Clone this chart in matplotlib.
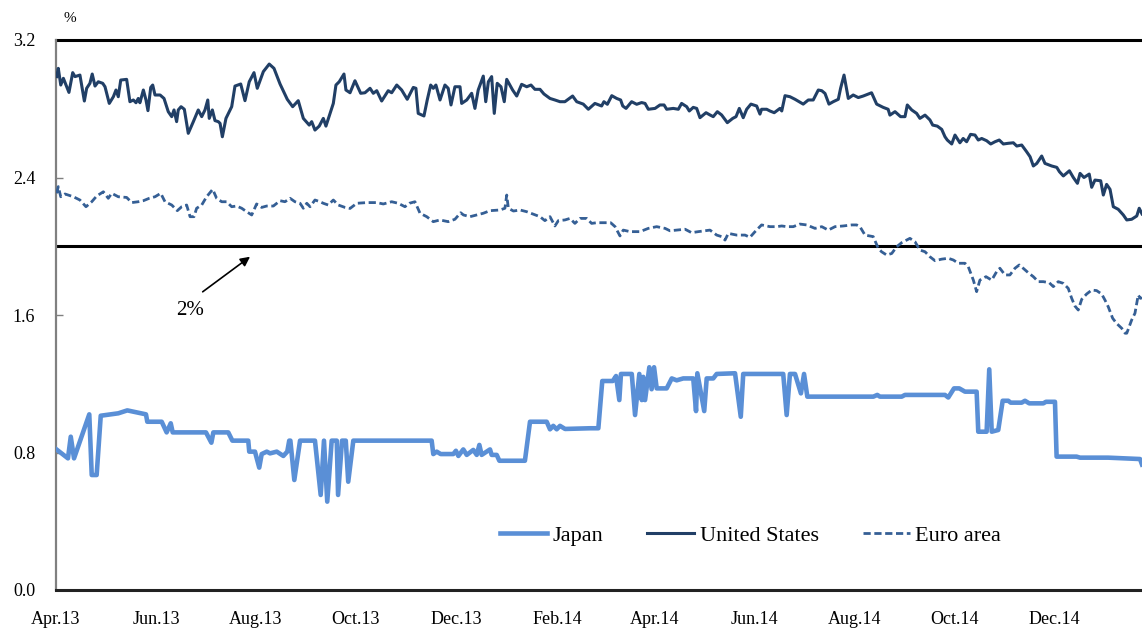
import matplotlib
matplotlib.use('Agg')
import matplotlib.pyplot as plt
import pandas as pd

plt.rcParams['font.family'] = ['Liberation Serif', 'DejaVu Serif']

# ---------------- data (x = days since 2013-04-01, y = %) ----------------
start_date = '2013-04-01'
end_day = 662.6

japan_day = [0, 7.3, 9.0, 11.0, 20.3, 21.8, 24.8, 27.3, 38.0, 43.5, 54.9, 55.7, 64.5, 67.5, 70.0, 71.2,
             91.5, 94.8, 96.0, 105.1, 107.6, 117.3, 117.9, 121.4, 124.0, 125.5, 128.6, 130.6, 134.7,
             138.7, 141.1, 142.3, 143.0, 145.4, 148.9, 158.0, 161.5, 163.5, 165.5, 168.2, 171.3, 172.1,
             174.5, 176.8, 178.3, 181.4, 229.2, 230.2, 232.3, 234.7, 242.4, 244.0, 245.5, 248.5, 250.6,
             254.6, 256.7, 258.3, 259.7, 264.8, 265.8, 268.9, 270.5, 286.1, 289.2, 299.4, 301.4, 303.4,
             305.5, 307.5, 310.6, 325.8, 330.9, 333.3, 339.7, 341.7, 343.7, 344.7, 351.3, 353.3, 355.9,
             357.4, 358.3, 359.4, 362.0, 363.4, 364.9, 366.5, 372.6, 375.7, 378.7, 382.7, 388.8, 390.5,
             391.3, 395.5, 397.0, 401.0, 403.1, 414.3, 417.8, 419.3, 443.7, 445.8, 447.8, 450.9, 454.5,
             456.4, 458.4, 498.7, 501.1, 502.7, 516.0, 518.0, 542.4, 544.4, 547.9, 551.1, 554.6, 561.7,
             562.7, 567.8, 569.4, 570.9, 574.9, 577.6, 581.0, 582.5, 589.2, 591.2, 593.8, 602.4, 604.0,
             609.5, 610.5, 622.7, 624.8, 642.0, 661.4, 662.6]
japan_val = [0.820, 0.766, 0.892, 0.766, 1.022, 0.669, 0.669, 1.014, 1.028, 1.045, 1.022, 0.979, 0.979,
             0.917, 0.970, 0.917, 0.917, 0.857, 0.917, 0.917, 0.869, 0.869, 0.805, 0.805, 0.712, 0.791,
             0.805, 0.795, 0.805, 0.780, 0.805, 0.869, 0.869, 0.640, 0.869, 0.869, 0.553, 0.869, 0.514,
             0.869, 0.869, 0.553, 0.869, 0.869, 0.630, 0.869, 0.869, 0.791, 0.805, 0.791, 0.791, 0.810,
             0.780, 0.818, 0.786, 0.815, 0.786, 0.844, 0.786, 0.818, 0.786, 0.786, 0.752, 0.752, 0.979,
             0.979, 0.935, 0.955, 0.935, 0.955, 0.937, 0.941, 0.941, 1.216, 1.216, 1.245, 1.105, 1.257,
             1.257, 1.018, 1.257, 1.105, 1.240, 1.105, 1.296, 1.168, 1.296, 1.173, 1.173, 1.231, 1.220,
             1.231, 1.231, 1.041, 1.261, 1.041, 1.231, 1.231, 1.257, 1.261, 1.008, 1.257, 1.257, 1.018,
             1.257, 1.257, 1.144, 1.257, 1.125, 1.125, 1.135, 1.125, 1.125, 1.135, 1.135, 1.120, 1.173,
             1.173, 1.154, 1.154, 0.921, 0.921, 1.284, 0.921, 0.931, 1.101, 1.101, 1.090, 1.090, 1.101,
             1.086, 1.086, 1.095, 1.095, 0.776, 0.776, 0.770, 0.770, 0.762, 0.730]

us_day = [0.4, 1.4, 2.9, 4.5, 6.1, 7.9, 10.2, 11.6, 14.6, 17.3, 18.7, 20.7, 22.1, 23.8, 25.8, 28.5, 29.9,
          32.5, 35.0, 36.6, 38.0, 39.5, 43.1, 45.1, 47.2, 48.8, 50.2, 51.2, 53.3, 54.9, 56.1, 57.8, 59.0,
          60.4, 63.5, 65.9, 68.5, 70.6, 72.0, 73.6, 74.6, 76.3, 78.3, 80.7, 83.8, 86.8, 88.9, 90.9, 92.6,
          93.5, 95.4, 97.0, 99.0, 100.1, 101.5, 103.7, 107.2, 109.2, 112.7, 115.3, 117.9, 120.8, 122.8,
          126.5, 130.1, 133.0, 136.7, 141.1, 144.4, 147.8, 150.9, 154.5, 156.0, 158.0, 160.6, 163.1,
          164.7, 169.2, 170.8, 172.8, 175.7, 176.9, 179.4, 182.4, 185.9, 188.5, 191.6, 193.6, 195.7,
          198.7, 202.7, 204.8, 207.9, 210.9, 214.3, 218.0, 219.6, 221.0, 224.5, 226.5, 228.6, 230.2,
          231.8, 234.3, 237.3, 239.3, 241.0, 243.4, 246.5, 247.5, 250.6, 253.6, 255.6, 257.6, 260.7,
          262.2, 263.8, 265.8, 267.4, 269.2, 271.5, 273.5, 275.0, 278.6, 281.1, 284.1, 287.2, 289.8,
          292.2, 295.3, 297.7, 301.4, 304.4, 307.5, 310.5, 315.2, 317.7, 321.7, 324.8, 328.8, 332.9,
          334.3, 336.4, 339.1, 342.1, 344.5, 345.8, 347.8, 351.2, 354.3, 357.3, 359.4, 361.4, 365.5,
          368.5, 371.0, 372.6, 376.6, 379.7, 381.7, 384.8, 386.4, 388.8, 390.9, 392.9, 396.6, 399.0,
          401.0, 403.5, 406.1, 409.6, 412.9, 414.9, 416.9, 419.3, 421.4, 424.0, 427.5, 429.5, 430.5,
          433.6, 435.6, 438.2, 441.7, 442.8, 444.8, 447.8, 450.9, 455.9, 459.0, 462.0, 465.1, 467.2,
          469.2, 471.6, 474.2, 477.3, 478.7, 480.8, 483.4, 486.4, 489.5, 492.5, 497.6, 500.7, 504.7,
          507.7, 508.8, 511.9, 515.3, 518.0, 519.4, 522.1, 525.1, 527.1, 530.2, 533.2, 534.9, 537.7,
          540.4, 542.4, 543.8, 546.5, 548.5, 551.5, 553.5, 555.6, 558.0, 560.7, 562.7, 564.8, 567.8,
          570.3, 572.9, 575.5, 578.0, 581.0, 584.1, 586.2, 589.2, 592.2, 594.3, 596.3, 598.4, 601.4,
          603.4, 607.5, 610.6, 612.2, 614.6, 618.3, 620.7, 623.2, 624.8, 627.2, 630.4, 631.9, 633.9,
          637.4, 639.0, 641.0, 643.1, 645.1, 648.1, 651.2, 653.3, 656.3, 659.4, 660.9, 662.6]
us_val = [2.987, 3.035, 2.938, 2.977, 2.938, 2.895, 3.010, 2.987, 2.996, 2.845, 2.919, 2.948, 3.002,
          2.932, 2.957, 2.948, 2.928, 2.831, 2.870, 2.909, 2.870, 2.967, 2.971, 2.841, 2.851, 2.835,
          2.860, 2.835, 2.909, 2.851, 2.789, 2.924, 2.938, 2.880, 2.880, 2.860, 2.783, 2.754, 2.793,
          2.725, 2.793, 2.812, 2.797, 2.657, 2.725, 2.793, 2.754, 2.793, 2.851, 2.744, 2.793, 2.731,
          2.725, 2.715, 2.637, 2.744, 2.812, 2.932, 2.944, 2.847, 2.957, 3.010, 2.919, 3.016, 3.060,
          3.035, 2.944, 2.855, 2.812, 2.847, 2.744, 2.705, 2.725, 2.676, 2.699, 2.744, 2.699, 2.831,
          2.938, 2.957, 3.002, 2.909, 2.893, 2.963, 2.890, 2.893, 2.919, 2.890, 2.905, 2.845, 2.905,
          2.893, 2.938, 2.909, 2.855, 2.924, 2.919, 2.773, 2.758, 2.851, 2.938, 2.919, 2.938, 2.851,
          2.938, 2.919, 2.822, 2.928, 2.928, 2.831, 2.851, 2.890, 2.802, 2.909, 2.990, 2.841, 2.957,
          2.987, 2.773, 2.948, 2.928, 2.841, 2.971, 2.909, 2.874, 2.942, 2.928, 2.938, 2.913, 2.913,
          2.886, 2.860, 2.851, 2.841, 2.841, 2.874, 2.841, 2.827, 2.797, 2.831, 2.816, 2.841, 2.826,
          2.876, 2.860, 2.851, 2.816, 2.802, 2.841, 2.826, 2.836, 2.831, 2.797, 2.802, 2.822, 2.822,
          2.797, 2.802, 2.797, 2.831, 2.812, 2.787, 2.808, 2.802, 2.748, 2.777, 2.764, 2.754, 2.783,
          2.764, 2.719, 2.744, 2.754, 2.802, 2.748, 2.797, 2.827, 2.816, 2.769, 2.797, 2.797, 2.787,
          2.777, 2.802, 2.787, 2.876, 2.870, 2.855, 2.827, 2.851, 2.851, 2.909, 2.905, 2.889, 2.827,
          2.841, 2.855, 2.919, 2.996, 2.860, 2.880, 2.865, 2.874, 2.893, 2.827, 2.808, 2.797, 2.763,
          2.783, 2.754, 2.754, 2.822, 2.793, 2.773, 2.744, 2.763, 2.735, 2.705, 2.699, 2.680, 2.637,
          2.618, 2.595, 2.647, 2.602, 2.627, 2.608, 2.651, 2.647, 2.618, 2.627, 2.614, 2.595, 2.608,
          2.618, 2.595, 2.599, 2.602, 2.583, 2.589, 2.550, 2.521, 2.467, 2.482, 2.525, 2.482, 2.467,
          2.459, 2.434, 2.409, 2.439, 2.400, 2.366, 2.424, 2.400, 2.420, 2.343, 2.385, 2.381, 2.298,
          2.360, 2.331, 2.230, 2.215, 2.182, 2.153, 2.157, 2.176, 2.221, 2.188]

euro_day = [0.4, 1.4, 2.9, 5.5, 10.6, 14.6, 18.3, 21.8, 24.8, 28.9, 31.9, 34.0, 38.0, 43.1, 46.2, 50.2,
            53.3, 56.9, 60.4, 63.9, 66.5, 70.6, 74.0, 76.7, 79.7, 81.8, 84.2, 85.8, 88.9, 91.9, 95.6,
            98.0, 101.1, 104.1, 107.2, 110.2, 113.3, 116.3, 119.4, 122.4, 125.5, 128.5, 132.6, 136.7,
            139.7, 142.8, 145.8, 148.9, 150.9, 153.0, 155.0, 158.0, 161.1, 163.1, 166.1, 169.2, 172.2,
            176.3, 179.4, 183.5, 189.6, 195.7, 199.7, 204.8, 208.8, 212.9, 215.6, 219.0, 222.1, 226.2,
            230.2, 234.3, 239.3, 243.4, 246.9, 248.6, 252.6, 256.7, 260.7, 264.8, 270.9, 273.9, 275.0,
            276.0, 279.1, 283.1, 287.2, 291.2, 295.3, 298.3, 301.4, 304.4, 306.5, 310.5, 313.6, 316.6,
            319.7, 323.8, 326.8, 329.9, 333.9, 338.4, 341.1, 344.1, 346.1, 350.2, 356.3, 361.4, 366.5,
            371.6, 374.6, 378.7, 383.8, 387.8, 391.9, 396.0, 399.0, 403.1, 406.1, 408.2, 410.2, 415.3,
            420.4, 423.4, 426.5, 430.5, 435.6, 439.7, 442.8, 445.8, 449.8, 453.9, 458.0, 463.1, 467.2,
            471.2, 475.3, 480.3, 485.5, 488.5, 490.5, 493.6, 498.6, 501.7, 503.7, 506.8, 509.9, 512.9,
            516.0, 521.0, 524.1, 527.1, 530.2, 533.2, 536.3, 540.4, 544.4, 547.5, 550.5, 554.6, 556.6,
            559.7, 561.7, 563.7, 567.4, 570.9, 573.9, 575.9, 579.0, 582.0, 585.1, 587.7, 590.1, 593.2,
            596.3, 599.3, 602.4, 606.0, 608.5, 611.5, 614.6, 617.6, 619.7, 621.7, 623.7, 625.8, 628.8,
            631.9, 634.9, 638.0, 640.0, 642.0, 644.7, 647.1, 650.2, 652.3, 653.3, 656.3, 658.3, 660.3,
            661.6, 662.6]
euro_val = [2.308, 2.347, 2.288, 2.304, 2.288, 2.269, 2.230, 2.259, 2.292, 2.317, 2.279, 2.308, 2.288,
            2.284, 2.254, 2.259, 2.265, 2.279, 2.288, 2.308, 2.259, 2.240, 2.207, 2.230, 2.240, 2.172,
            2.172, 2.221, 2.240, 2.288, 2.331, 2.279, 2.259, 2.259, 2.230, 2.234, 2.221, 2.201, 2.182,
            2.246, 2.226, 2.234, 2.234, 2.265, 2.259, 2.279, 2.259, 2.250, 2.221, 2.250, 2.230, 2.269,
            2.259, 2.250, 2.240, 2.269, 2.240, 2.226, 2.220, 2.250, 2.254, 2.254, 2.246, 2.259, 2.250,
            2.230, 2.250, 2.259, 2.192, 2.172, 2.143, 2.153, 2.143, 2.157, 2.195, 2.182, 2.172, 2.182,
            2.192, 2.207, 2.211, 2.221, 2.298, 2.221, 2.205, 2.211, 2.201, 2.187, 2.172, 2.149, 2.172,
            2.118, 2.149, 2.153, 2.162, 2.133, 2.162, 2.162, 2.133, 2.137, 2.137, 2.137, 2.114, 2.060,
            2.094, 2.085, 2.085, 2.104, 2.114, 2.104, 2.090, 2.094, 2.099, 2.079, 2.085, 2.090, 2.094,
            2.065, 2.056, 2.036, 2.075, 2.065, 2.065, 2.052, 2.085, 2.124, 2.114, 2.114, 2.118, 2.114,
            2.114, 2.129, 2.124, 2.104, 2.114, 2.094, 2.114, 2.118, 2.124, 2.124, 2.114, 2.065, 2.056,
            1.988, 1.968, 1.949, 1.958, 1.997, 2.021, 2.046, 2.026, 1.978, 1.968, 1.939, 1.916, 1.925,
            1.930, 1.920, 1.901, 1.901, 1.881, 1.803, 1.736, 1.803, 1.823, 1.803, 1.852, 1.872, 1.833,
            1.833, 1.872, 1.891, 1.872, 1.846, 1.823, 1.794, 1.794, 1.788, 1.765, 1.794, 1.784, 1.755,
            1.697, 1.652, 1.629, 1.691, 1.722, 1.745, 1.742, 1.722, 1.687, 1.648, 1.581, 1.551, 1.523,
            1.494, 1.494, 1.571, 1.610, 1.716, 1.697, 1.700]

assert len(japan_day) == len(japan_val)
assert len(us_day) == len(us_val)
assert len(euro_day) == len(euro_val)

x_tick_dates = ['2013-04-01', '2013-06-01', '2013-08-01', '2013-10-01', '2013-12-01', '2014-02-01',
                '2014-04-01', '2014-06-01', '2014-08-01', '2014-10-01', '2014-12-01']
x_tick_labels = ['Apr.13', 'Jun.13', 'Aug.13', 'Oct.13', 'Dec.13', 'Feb.14',
                 'Apr.14', 'Jun.14', 'Aug.14', 'Oct.14', 'Dec.14']
y_ticks = [0.0, 0.8, 1.6, 2.4, 3.2]
reference_level = 2.0

# ---------------- figure ----------------
W, H = 1142, 628
fig = plt.figure(figsize=(W / 100, H / 100), dpi=100)
ax = fig.add_axes([56 / W, 38 / H, 1 - 56 / W, 550 / H])

c_japan = '#5a8fd6'
c_us = '#213f66'
c_euro = '#355f95'

ax.plot(japan_day, japan_val, color=c_japan, lw=3.3, label='Japan', zorder=3)
ax.plot(us_day, us_val, color=c_us, lw=2.2, label='United States', zorder=4)
ax.plot(euro_day, euro_val, color=c_euro, lw=2.0, linestyle=(0, (2.6, 1.3)), label='Euro area', zorder=4)

ax.axhline(reference_level, color='black', lw=2.2, zorder=2)
ax.axhline(3.2, color='black', lw=2.2, zorder=2, clip_on=False)

ax.set_xlim(0, end_day)
ax.set_ylim(0, 3.2)

start = pd.Timestamp(start_date)
xt = [(pd.Timestamp(d) - start).days for d in x_tick_dates]
ax.set_xticks(xt)
ax.set_xticklabels(x_tick_labels)
ax.set_yticks(y_ticks)
ax.set_yticklabels([f'{v:.1f}' for v in y_ticks])

ax.tick_params(axis='x', length=0, pad=15, labelsize=13)
ax.tick_params(axis='y', direction='in', length=5, width=1, color='#808080', pad=15, labelsize=13)

for s in ['top', 'right']:
    ax.spines[s].set_visible(False)
ax.spines['left'].set_color('#808080')
ax.spines['left'].set_linewidth(1.6)
ax.spines['bottom'].set_color('#222222')
ax.spines['bottom'].set_linewidth(2.2)

leg = ax.legend(loc='center', bbox_to_anchor=(0.6395, 0.099), ncol=3, frameon=False,
                fontsize=16, handlelength=2.1, columnspacing=2.0, handletextpad=0.25)

ax.text(81.8, 1.629, '2%', ha='center', va='center', fontsize=15)
ax.annotate('', xy=(118.4, 1.939), xytext=(89.5, 1.735),
            arrowprops=dict(arrowstyle='-|>', color='black', lw=1.2, mutation_scale=14, shrinkA=0, shrinkB=0))

fig.text(70 / W, 1 - 18 / H, '%', ha='center', va='center', fontsize=11)

fig.savefig('out.png', dpi=100)
